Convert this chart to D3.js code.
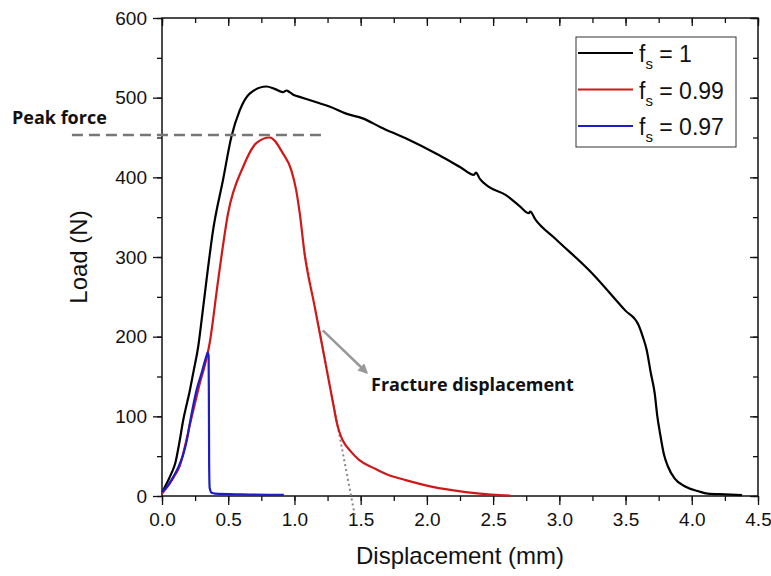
<!DOCTYPE html>
<html>
<head>
<meta charset="utf-8">
<script src="https://cdn.jsdelivr.net/npm/d3@7/dist/d3.min.js"></script>
<style>
  body { margin: 0; background: #fff; }
  svg { display: block; font-family: "Liberation Sans", Arial, sans-serif; }
  .tickLbl { font-size: 19px; fill: #111; }
  .axisLbl { font-size: 24px; fill: #111; }
  .note { font-family: "Open Sans", sans-serif; font-weight: bold; font-size: 18px; fill: #111; }
  .legendTxt { font-size: 23px; fill: #111; }
</style>
</head>
<body>
<div id="chart"></div>
<script>
// Displacement (mm) / Load (N) pairs
let fs1Curve = [
  [0, 4], [0.03, 14], [0.07, 28], [0.10, 41], [0.13, 66], [0.16, 95], [0.211, 133],
  [0.24, 158], [0.273, 187], [0.30, 222], [0.336, 271], [0.386, 334], [0.461, 397], [0.524, 451],
  [0.587, 484], [0.662, 505], [0.788, 514], [0.85, 511], [0.913, 507], [0.94, 509], [0.963, 507],
  [1.0, 503], [1.038, 501], [1.19, 493], [1.264, 489], [1.39, 480], [1.515, 474], [1.65, 463],
  [1.84, 449], [2.09, 428], [2.25, 413], [2.355, 403], [2.37, 406], [2.40, 398], [2.468, 388],
  [2.594, 378], [2.70, 364], [2.77, 355], [2.78, 357], [2.82, 347], [2.97, 323], [3.245, 280],
  [3.497, 233], [3.597, 215], [3.63, 200], [3.66, 183], [3.69, 155], [3.72, 129], [3.74, 100],
  [3.76, 79], [3.79, 52], [3.82, 37], [3.87, 22], [3.95, 12], [4.05, 6], [4.12, 3], [4.25, 2],
  [4.38, 1]
];

let fs099Curve = [
  [0, 3], [0.06, 16], [0.10, 27], [0.135, 38], [0.17, 60], [0.211, 90], [0.25, 117], [0.286, 142],
  [0.32, 162], [0.36, 192], [0.424, 271], [0.499, 355], [0.612, 413], [0.712, 443],
  [0.813, 450], [0.913, 430], [0.976, 409], [1.013, 384], [1.04, 355], [1.076, 305], [1.15, 240],
  [1.20, 197], [1.25, 153], [1.29, 118], [1.32, 92], [1.34, 80], [1.364, 70], [1.42, 57],
  [1.49, 45], [1.60, 35], [1.70, 27], [1.84, 20], [2.0, 13], [2.2, 7], [2.4, 3], [2.55, 1],
  [2.63, 0.5]
];

let fs097Curve = [
  [0, 5], [0.04, 12], [0.085, 24], [0.12, 35], [0.16, 52], [0.19, 72], [0.211, 92], [0.235, 113],
  [0.261, 133], [0.30, 155], [0.336, 176], [0.345, 180], [0.352, 176], [0.354, 120], [0.356, 40],
  [0.36, 10], [0.375, 4], [0.40, 3], [0.6, 2], [0.8, 1.5], [0.92, 1.5]
];

let seriesNames = ["1", "0.99", "0.97"];
let seriesColors = ["#000000", "#d01818", "#1c1cc8"];

let xTicks = [0, 0.5, 1.0, 1.5, 2.0, 2.5, 3.0, 3.5, 4.0, 4.5];
let yTicks = [0, 100, 200, 300, 400, 500, 600];

// peak force level and tangent used to read the fracture displacement
let peakForce = 453;
let peakLineX = [-0.68, 1.21];
let tangentLine = [[1.076, 305], [1.46, -28]];

let width = 771, height = 576;
let margin = {left: 162, right: 13, top: 18, bottom: 80};

let svg = d3.select("#chart").append("svg")
  .attr("width", width)
  .attr("height", height);

let xScale = d3.scaleLinear().domain([0, 4.5]).range([margin.left, width - margin.right]);
let yScale = d3.scaleLinear().domain([0, 600]).range([height - margin.bottom, margin.top]);

let x0 = xScale(0), x1 = xScale(4.5), y0 = yScale(0), y1 = yScale(600);

let minorX = d3.range(0, 4.51, 0.25);
let minorY = d3.range(0, 601, 50);

// bottom axis, ticks outward
let bottom = svg.append("g").attr("transform", "translate(0," + y0 + ")");
bottom.call(d3.axisBottom(xScale).tickValues(minorX).tickSize(5).tickFormat(""));
bottom.call(g => g.append("g").call(d3.axisBottom(xScale).tickValues(xTicks).tickSize(9).tickFormat(d3.format(".1f"))));
bottom.selectAll("text").attr("class", "tickLbl").attr("dy", "0.95em").attr("fill", "#111");

// top axis, ticks inward
svg.append("g").attr("transform", "translate(0," + y1 + ")")
  .call(d3.axisBottom(xScale).tickValues(minorX).tickSize(5).tickFormat(""))
  .call(g => g.append("g").call(d3.axisBottom(xScale).tickValues(xTicks).tickSize(8).tickFormat("")));

// left axis, ticks outward
let left = svg.append("g").attr("transform", "translate(" + x0 + ",0)");
left.call(d3.axisLeft(yScale).tickValues(minorY).tickSize(5).tickFormat(""));
left.call(g => g.append("g").call(d3.axisLeft(yScale).tickValues(yTicks).tickSize(9)));
left.selectAll("text").attr("class", "tickLbl").attr("x", -15).attr("fill", "#111");

// right axis, ticks inward
svg.append("g").attr("transform", "translate(" + x1 + ",0)")
  .call(d3.axisRight(yScale).tickValues(minorY).tickSize(-5).tickFormat(""))
  .call(g => g.append("g").call(d3.axisRight(yScale).tickValues(yTicks).tickSize(-8).tickFormat("")));

svg.selectAll(".domain").remove();
svg.selectAll(".tick line").attr("stroke", "#111").attr("stroke-width", 1.3);

// frame
svg.append("rect")
  .attr("x", x0).attr("y", y1)
  .attr("width", x1 - x0).attr("height", y0 - y1)
  .attr("fill", "none").attr("stroke", "#111").attr("stroke-width", 1.5);

// axis titles
svg.append("text")
  .attr("class", "axisLbl")
  .attr("x", (x0 + x1) / 2).attr("y", 564)
  .attr("text-anchor", "middle")
  .text("Displacement (mm)");

svg.append("text")
  .attr("class", "axisLbl")
  .attr("transform", "translate(87," + ((y0 + y1) / 2) + ") rotate(-90)")
  .attr("text-anchor", "middle")
  .text("Load (N)");

// tangent (dotted) for fracture displacement
svg.append("line")
  .attr("x1", xScale(tangentLine[0][0])).attr("y1", yScale(tangentLine[0][1]))
  .attr("x2", xScale(tangentLine[1][0])).attr("y2", yScale(tangentLine[1][1]))
  .attr("stroke", "#888").attr("stroke-width", 2).attr("stroke-dasharray", "2,3");

// curves
let line = d3.line().x(d => xScale(d[0])).y(d => yScale(d[1])).curve(d3.curveMonotoneX);
let curves = [fs1Curve, fs099Curve, fs097Curve];
svg.selectAll(".curve")
  .data(curves)
  .enter()
  .append("path")
  .attr("class", "curve")
  .attr("d", d => line(d))
  .attr("fill", "none")
  .attr("stroke", (d, i) => seriesColors[i])
  .attr("stroke-width", 2.2)
  .attr("stroke-linejoin", "round");

// peak force dashed line
svg.append("line")
  .attr("x1", xScale(peakLineX[0])).attr("x2", xScale(peakLineX[1]))
  .attr("y1", yScale(peakForce)).attr("y2", yScale(peakForce))
  .attr("stroke", "#777").attr("stroke-width", 2.5).attr("stroke-dasharray", "11,6");

svg.append("text")
  .attr("class", "note")
  .attr("x", 12).attr("y", 124)
  .text("Peak force");

// arrow to fracture label
svg.append("defs").append("marker")
  .attr("id", "arrowHead")
  .attr("viewBox", "0 0 10 10")
  .attr("refX", 8).attr("refY", 5)
  .attr("markerWidth", 4).attr("markerHeight", 4)
  .attr("orient", "auto")
  .append("path")
  .attr("d", "M0,0 L10,5 L0,10 z")
  .attr("fill", "#999");

svg.append("line")
  .attr("x1", xScale(1.214)).attr("y1", yScale(208))
  .attr("x2", xScale(1.545)).attr("y2", yScale(155))
  .attr("stroke", "#999").attr("stroke-width", 2.5)
  .attr("marker-end", "url(#arrowHead)");

svg.append("text")
  .attr("class", "note")
  .attr("x", 371).attr("y", 391)
  .text("Fracture displacement");

// legend
let legend = svg.append("g").attr("transform", "translate(576,37)");
legend.append("rect")
  .attr("width", 160).attr("height", 110)
  .attr("fill", "#fff").attr("stroke", "#333").attr("stroke-width", 1);

seriesNames.forEach((name, i) => {
  let yy = 16 + i * 36.5;
  legend.append("line")
    .attr("x1", 2).attr("x2", 57)
    .attr("y1", yy).attr("y2", yy)
    .attr("stroke", seriesColors[i]).attr("stroke-width", 2.2);
  let t = legend.append("text")
    .attr("class", "legendTxt")
    .attr("x", 63).attr("y", yy + 9);
  t.append("tspan").text("f");
  t.append("tspan").attr("dy", 7).attr("font-size", "15px").text("s");
  t.append("tspan").attr("dy", -7).text(" = " + name);
});
</script>
</body>
</html>
